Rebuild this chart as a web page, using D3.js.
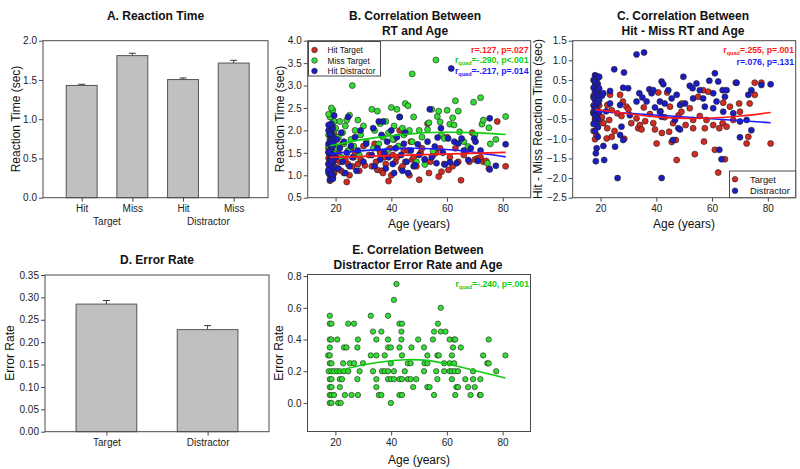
<!DOCTYPE html>
<html><head><meta charset="utf-8">
<script src="https://cdn.jsdelivr.net/npm/d3@7"></script>
<style>body{margin:0;background:#fff} text{font-family:"Liberation Sans",Arial,sans-serif}</style>
</head><body><svg id="c" width="800" height="469"></svg>
<script>
// ---------- DATA ----------
const catsA = ["Hit","Miss","Hit","Miss"];
const groupsA = ["Target","Distractor"];
const rtMeansA = [1.43, 1.81, 1.505, 1.715];
const rtErrA = [0.015, 0.03, 0.02, 0.035];
const rtTicksA = [0,0.5,1.0,1.5,2.0];

const catsD = ["Target","Distractor"];
const errMeansD = [0.285, 0.228];
const errErrD = [0.008, 0.009];
const errTicksD = [0,0.05,0.10,0.15,0.20,0.25,0.30,0.35];

const ageTicks = [20,40,60,80];
const rtTicksB = [0.5,1.0,1.5,2.0,2.5,3.0,3.5,4.0];
const diffTicksC = [-2.5,-2.0,-1.5,-1.0,-0.5,0,0.5,1.0,1.5];
const errTicksE = [0,0.2,0.4,0.6,0.8];

// B: Hit Target RT
const hitTargetB = [[18,0.88],[18.5,0.92],[19,0.95],[18,1.0],[19.5,1.05],[18.5,1.08],[17.5,1.1],[19,1.15],[18,1.18],[19.5,1.2],[18.5,1.22],[17.5,1.25],[19,1.28],[18,1.3],[19.5,1.33],[18.5,1.35],[17.5,1.38],[19,1.4],[18,1.45],[19.5,1.5],[18.5,1.55],[17.5,1.6],[19,1.7],[18,1.8],[19.5,1.9],
[20.5,1.15],[21,1.5],[21.5,1.3],[22,1.1],[22.5,1.7],[23,1.05],[23.5,1.35],[24,0.85],[24.5,1.25],[25,1.0],[25.5,1.6],[26,1.2],[26.5,1.4],[27,1.5],[28,1.25],[28.5,1.1],[29,1.35],[30,1.65],[30.5,1.22],[32,1.45],[33,1.2],[34,1.7],[34.5,1.3],[35,1.12],[36,1.5],[36.5,1.1],[37,1.05],[37.5,1.4],[38,1.25],[39,0.87],[39.5,1.6],[40,1.0],[40.5,1.45],[41,1.8],[41.5,1.3],[42,1.4],[43,2.0],[43.5,1.15],[44,1.2],[44.5,1.55],[45,1.3],[46,1.55],[46.5,1.0],[47,1.75],[47.5,1.35],[48,1.4],[49,1.2],[50,0.9],[50.5,1.5],[51,1.6],[52,1.35],[53,2.15],[53.5,1.05],[54,1.3],[55,1.45],[56,1.5],[57,0.97],[57.5,1.6],[58,1.08],[59,1.25],[60,1.85],[60.5,1.12],[61,1.4],[62,1.2],[63,1.6],[64,1.3],[65,0.89],[66,1.45],[67,1.55],[68,1.3],[69,1.95],[70,1.35],[71,1.38],[72,1.4],[73,1.3],[74,1.32],[75,1.15],[78,2.2],[81,1.2]];
// B: Miss Target RT
const missTargetB = [[18,1.2],[19,1.35],[18.5,1.45],[19.5,1.5],[18,1.55],[19,1.6],[17.5,1.65],[18.5,1.7],[19.5,1.75],[18,1.8],[19,1.85],[17.5,1.9],[18.5,1.95],[19.5,2.0],[18,2.05],[19,2.1],[18.5,2.15],[19.5,2.2],[18,2.3],[17.5,2.36],[19,2.45],[18.5,2.5],
[20,2.05],[20.5,1.6],[21,1.85],[21.5,2.2],[22,1.4],[22.5,1.95],[23,1.7],[23.5,2.1],[24,2.23],[24.5,1.55],[25,2.34],[25.5,1.8],[26,3.0],[26.5,1.65],[27,2.0],[28,2.23],[28.5,1.45],[29,1.9],[30,2.1],[31,1.75],[33,2.47],[33.5,1.6],[34,2.0],[35,2.43],[35.5,1.7],[36,2.15],[37,1.85],[38,2.2],[38.5,1.55],[39,1.95],[40,2.51],[40.5,1.8],[41,2.1],[42,2.47],[42.5,1.65],[43,2.3],[44,2.05],[44.5,1.9],[45,2.6],[46,2.55],[46.5,2.0],[47.5,3.26],[47.5,1.75],[48,2.3],[49,1.3],[50,2.0],[51,1.85],[52,1.24],[53,2.02],[53.5,2.17],[54.5,2.47],[55,1.54],[56,3.57],[56.5,2.31],[57,2.43],[57.5,2.19],[58,1.9],[59,1.82],[60,2.45],[61,2.14],[62,2.28],[62.5,2.12],[63,2.66],[64,2.43],[64.5,1.97],[66,1.75],[67.5,1.64],[69.5,2.63],[70,1.9],[72,2.73],[72.5,2.14],[73,2.23],[74.5,1.27],[75,2.06],[75.5,1.7],[77.5,1.8],[81,2.31]];
// B: Hit Distractor RT
const hitDistractorB = [[18,0.9],[18.5,0.95],[19,1.0],[17.5,1.05],[18,1.1],[19,1.15],[18.5,1.2],[17.5,1.25],[19,1.3],[18,1.35],[18.5,1.4],[19,1.45],[17.5,1.5],[18,1.55],[18.5,1.6],[19,1.65],[17.5,1.7],[18,1.75],[18.5,1.8],[19,1.85],[18,1.9],[18.5,1.95],[17.5,2.0],[19,2.05],[18,2.1],[18.5,2.15],[19,0.92],[17.5,1.12],[18.5,1.32],[17.5,1.52],[19,1.72],[18,1.92],[17.5,2.12],[19.5,2.33],[18.5,1.02],
[20,1.4],[20.5,1.8],[21,1.15],[21.5,1.6],[22,1.95],[22.5,1.3],[23,1.75],[23.5,1.05],[24,1.5],[24.5,2.3],[25,1.2],[25.5,1.65],[26,1.4],[27,1.85],[27.5,1.1],[28,1.55],[29,2.0],[30,1.3],[31,1.7],[33,1.45],[33.5,2.05],[34,1.2],[35,1.6],[35.5,2.2],[36,1.35],[36.5,1.9],[37,2.2],[37.5,1.5],[38,1.15],[38.5,1.75],[39,1.4],[40,2.0],[40.5,1.25],[41,1.05],[41.5,1.6],[42,1.85],[43,2.3],[43.5,1.45],[44,1.1],[44.5,1.7],[45,1.95],[45.5,1.3],[46,1.05],[47,1.55],[48,1.2],[48.5,1.23],[49.5,1.69],[50,1.45],[52,1.35],[53,1.75],[53.8,2.47],[54.5,1.4],[55.6,1.64],[56.2,1.27],[56.6,1.84],[57.8,2.05],[58.5,1.5],[59.2,1.24],[60.4,1.82],[61,1.29],[61.5,3.38],[62.6,1.75],[63.4,1.27],[64,1.71],[65.2,1.82],[66,1.55],[67.6,1.34],[68.5,1.6],[69.7,1.82],[70.2,1.75],[71,1.32],[72,1.55],[75.3,2.27],[75.3,1.13],[77.5,1.21],[81,1.69]];
// B fit curves
const fitHitTargetB = [[18,1.40],[81,1.51]];
const fitMissTargetB = [[18,1.66],[30,1.80],[40,1.88],[50,1.94],[60,1.96],[70,1.95],[81,1.91]];
const fitHitDistractorB = [[18,1.48],[30,1.55],[45,1.60],[55,1.59],[66,1.54],[81,1.41]];

// C: Hit - Miss RT, Target
const diffTargetC = [[18,0.43],[18.5,0.3],[19,0.2],[17.5,0.1],[18,0.0],[19,-0.1],[18.5,-0.2],[17.5,-0.3],[19,-0.4],[18,-0.5],[18.5,-0.6],[19,-0.7],[17.5,-0.8],[18.5,-0.9],[18,-1.01],[19.5,-0.15],[17.5,-0.35],[19.5,-0.55],[19,0.05],[18,-0.25],
[20.5,-0.45],[21,-0.6],[22.2,-0.99],[22.4,-0.14],[22.4,-0.73],[23.1,-0.52],[23.4,0.12],[24,-0.27],[24,-0.95],[25,-0.8],[26,-0.35],[27,0.12],[27.5,-0.42],[28,-0.05],[28.5,-1.0],[29.3,-0.18],[30,-0.25],[31,-0.6],[32.9,-0.48],[33.5,-0.73],[34.1,-0.65],[34.7,-0.76],[35.5,-0.2],[36,-0.55],[37.7,-0.37],[38.9,-0.6],[39.5,-0.76],[40.1,-1.12],[40.7,0.18],[41.5,-0.3],[42,-0.85],[43,-0.45],[43.9,0.18],[44.6,-0.82],[44.9,-0.18],[45.5,-1.08],[46,-0.6],[47,-1.03],[47.3,-1.54],[48,-0.4],[49,-0.31],[49.1,-0.1],[50.5,-0.65],[52,-0.22],[53.2,-0.52],[53.2,-0.73],[53.8,-1.39],[55,0.07],[55.6,-0.42],[56.8,0.24],[57.1,-1.07],[57.4,-0.73],[58,-0.52],[58.6,0.2],[60.4,-0.65],[61,-1.28],[62.2,-1.86],[62.6,-0.73],[63.8,-0.6],[64,-0.08],[64.6,-1.52],[65.2,-0.69],[66.4,-0.18],[67.6,-0.52],[68.5,0.43],[69.7,-0.1],[70,-0.31],[72.4,-1.12],[73,-0.95],[73.5,-0.1],[75.3,0.12],[75.3,0.43],[77.7,0.43],[81,-1.12]];
// C: Hit - Miss RT, Distractor
const diffDistractorC = [[18,0.62],[18.5,0.6],[19,0.55],[17.5,0.5],[18,0.45],[19,0.4],[18.5,0.35],[17.5,0.3],[19,0.25],[18,0.2],[18.5,0.15],[19,0.1],[17.5,0.05],[18,0.0],[18.5,-0.05],[19,-0.1],[17.5,-0.15],[18,-0.2],[18.5,-0.25],[19,-0.3],[17.5,-0.35],[18,-0.4],[18.5,-0.45],[19,-0.5],[18,-0.55],[18.5,-0.6],[19,-0.7],[18,-0.8],[19,-0.95],[18.6,-1.24],[18.3,-1.37],[18.3,-1.57],[19.5,0.58],[19.5,0.28],[19.5,-0.02],[19.5,-0.32],[17.5,-0.62],
[20.5,0.1],[21,0.16],[21,-1.18],[21.3,-1.54],[22,-0.3],[23.4,0.22],[23.4,-0.1],[24.9,0.77],[25.2,-1.2],[26.1,-2.0],[27,-0.14],[27,-0.9],[27.5,-0.69],[28.1,0.3],[28.1,-1.03],[28.4,0.69],[29.9,0.29],[30.5,-0.4],[32.9,1.15],[32.9,-0.05],[33.9,0.16],[35.6,1.2],[35,0.05],[36.5,-0.05],[37.5,0.26],[38.3,0.16],[38.9,0.24],[39.5,-0.2],[41.3,-0.05],[41.3,-0.31],[41.9,0.46],[41.9,-0.44],[41.9,-2.0],[42.5,0.39],[43,-0.1],[44.3,0.24],[45.5,0.03],[46,-1.03],[46.7,-0.52],[47.3,0.12],[47.9,-0.73],[48.5,-0.14],[48.5,-0.76],[49.7,0.58],[50.3,-0.1],[52,0.35],[53,0.29],[53.2,0.03],[54.4,0.41],[55.6,0.24],[56.8,0.03],[57.4,-0.18],[59,0.48],[60.4,0.16],[60.4,-0.22],[61,0.67],[61.6,-0.05],[62.2,0.46],[62.6,-1.28],[63.4,-1.52],[63.8,0.24],[64,-0.31],[64.6,0.07],[65.2,0.24],[67.6,-0.35],[68.8,0.43],[70,-0.56],[70,-0.96],[72.4,-0.52],[73,0.12],[74.1,0.24],[74.1,-0.78],[77.7,0.37],[81,0.39]];
const fitTargetC = [[18,-0.25],[30,-0.36],[40,-0.44],[50,-0.48],[60,-0.47],[70,-0.42],[81,-0.33]];
const fitDistractorC = [[18,-0.29],[81,-0.59]];

// E: distractor error rate by age (rate, ages at that rate)
const errRowsE = [
 [0.75,[41.9]],[0.65,[41]],[0.60,[57.8]],
 [0.55,[18,32.7,38.9]],
 [0.50,[18,18.6,24.6,26.7,43,43.9,56.8]],
 [0.45,[33.5,36.5,43.7,55.4,57.8,59.5]],
 [0.40,[18,18.6,20.7,28.1,34.7,38.9,43.7,49.7,55,61,62.6,63,75]],
 [0.35,[18,23.1,24,27.9,38.9,39.9,43,47.3,51.8,62.2,65]],
 [0.30,[17.4,18,32.7,34.7,37.7,43.9,53,56.6,57.1,61.8,73,81]],
 [0.25,[18,18.6,22.8,25.2,26.7,29.9,39.9,46,47,52,53,59,61,62.6,74.5,75]],
 [0.20,[17.6,18.6,19.5,20.6,21.6,23.1,24.6,28.7,33.5,36.7,37.7,38.9,41,44.9,51.8,56.2,59,61,61.8,62.8,64,69.4,77.7]],
 [0.15,[18,18.6,21.6,22.4,27.9,34.7,38.9,39.9,41,43,43.9,46,47,49,56.6,61.8,66.6,69.4,72]],
 [0.10,[18,18.6,21.6,34.7,47.9,53,53.8,63.4,64,67.6,70]],
 [0.05,[18,18.6,19.5,23.4,25.8,28.1,35.6,36.5,43,43.9,55.4,63,68.5,71.8,72.1]],
 [0.00,[18,18.6,21,21.9,39.9]]
];
const fitE = [[19,0.185],[25,0.22],[35,0.255],[45,0.272],[52,0.27],[60,0.247],[70,0.205],[81,0.157]];

// ---------- DRAW ----------
const svg = d3.select("#c");
const FONT = "Liberation Sans, Arial, sans-serif";
const AX = "#4a4a4a";
const RED = "#d42a22", GREEN = "#33dd33", BLUE = "#1c1cc4";
const LRED = "#ff1a1a", LGREEN = "#11cc11", LBLUE = "#1a1aff";

function box(x0,x1,y0,y1){
  svg.append("rect").attr("x",x0).attr("y",y0).attr("width",x1-x0).attr("height",y1-y0)
    .attr("fill","none").attr("stroke",AX).attr("stroke-width",1);
}
function styleAxis(g){
  g.attr("font-family",FONT);
  g.select(".domain").remove();
  g.selectAll("line").attr("stroke",AX);
  g.selectAll("text").attr("font-size",10).attr("fill","#222");
}
function yAxis(scale,x,ticks,fmt){
  const g = svg.append("g").attr("transform",`translate(${x},0)`)
    .call(d3.axisLeft(scale).tickValues(ticks).tickFormat(d3.format(fmt)).tickSize(4).tickPadding(2));
  styleAxis(g); return g;
}
function xAxis(scale,y,ticks,fmt){
  const a = d3.axisBottom(scale).tickSize(4).tickPadding(3);
  if(ticks) a.tickValues(ticks);
  if(fmt) a.tickFormat(fmt);
  const g = svg.append("g").attr("transform",`translate(0,${y})`).call(a);
  styleAxis(g); return g;
}
function title(lines,cx,y0){
  lines.forEach((t,i)=>svg.append("text").attr("x",cx).attr("y",y0+i*15).attr("text-anchor","middle")
    .attr("font-size",12).attr("font-weight","bold").attr("fill","#111").text(t));
}
function yLabel(t,x,cy){
  svg.append("text").attr("transform",`translate(${x},${cy}) rotate(-90)`).attr("text-anchor","middle")
    .attr("font-size",12).attr("fill","#111").text(t);
}
function xLabel(t,cx,y){
  svg.append("text").attr("x",cx).attr("y",y).attr("text-anchor","middle").attr("font-size",12).attr("fill","#111").text(t);
}
function stat(x,y,color,pre,sub,post,fs){
  const t = svg.append("text").attr("x",x).attr("y",y).attr("text-anchor","end")
    .attr("font-size",fs||8.7).attr("font-weight","bold").attr("fill",color);
  t.append("tspan").text(pre);
  if(sub){ t.append("tspan").attr("font-size",5.5).attr("dy",2).text(sub); t.append("tspan").attr("dy",-2).text(post); }
}
function dots(data,x,y,color,r){
  svg.append("g").selectAll("circle").data(data).join("circle")
    .attr("cx",d=>x(d[0])).attr("cy",d=>y(d[1])).attr("r",r||3)
    .attr("fill",color).attr("stroke","#202020").attr("stroke-width",0.6);
}
function fit(data,x,y,color){
  svg.append("path").datum(data).attr("fill","none").attr("stroke",color).attr("stroke-width",1.6)
    .attr("d",d3.line().x(d=>x(d[0])).y(d=>y(d[1])).curve(d3.curveNatural));
}
function bars(data,errs,x,y,w){
  const g = svg.append("g");
  data.forEach((v,i)=>{
    const cx = x(i), y0 = y(0), yt = y(v), ye = y(v+errs[i]);
    g.append("line").attr("x1",cx).attr("x2",cx).attr("y1",yt).attr("y2",ye).attr("stroke","#222").attr("stroke-width",0.9);
    g.append("line").attr("x1",cx-3.5).attr("x2",cx+3.5).attr("y1",ye).attr("y2",ye).attr("stroke","#222").attr("stroke-width",0.9);
    g.append("rect").attr("x",cx-w/2).attr("y",yt).attr("width",w).attr("height",y0-yt)
      .attr("fill","#c0c0c0").attr("stroke","#555").attr("stroke-width",1);
  });
}

// ---- Panel A ----
{
  const L=43,R=268,T=40.7,B=197.7;
  const x = d3.scalePoint().domain(d3.range(catsA.length)).range([L,R]).padding(0.72).align(0.53);
  const y = d3.scaleLinear().domain([0,2]).range([B,T]);
  bars(rtMeansA,rtErrA,x,y,x.step()*0.61);
  box(L,R,T,B);
  yAxis(y,L,rtTicksA,".1f");
  xAxis(x,B,null,i=>catsA[i]);
  groupsA.forEach((gname,gi)=>{
    const cx = (x(gi*2)+x(gi*2+1))/2;
    svg.append("text").attr("x",cx).attr("y",225).attr("text-anchor","middle").attr("font-size",10).attr("fill","#222").text(gname);
  });
  title(["A. Reaction Time"],155.5,19.5);
  yLabel("Reaction Time (sec)",20,119);
}

// ---- Panel B ----
{
  const L=307.7,R=530.7,T=40.7,B=197.7;
  const x = d3.scaleLinear().domain([10,90]).range([L,R]);
  const y = d3.scaleLinear().domain([0.5,4]).range([B,T]);
  dots(hitTargetB,x,y,RED);
  dots(missTargetB,x,y,GREEN);
  dots(hitDistractorB,x,y,BLUE);
  fit(fitMissTargetB,x,y,LGREEN);
  fit(fitHitDistractorB,x,y,LBLUE);
  fit(fitHitTargetB,x,y,LRED);
  box(L,R,T,B);
  yAxis(y,L,rtTicksB,".1f");
  xAxis(x,B,ageTicks,d3.format("d"));
  // legend
  svg.append("rect").attr("x",308.5).attr("y",41.5).attr("width",72).attr("height",34.5).attr("fill","#fff").attr("stroke",AX).attr("stroke-width",1);
  [["Hit Target",RED],["Miss Target",GREEN],["Hit Distractor",BLUE]].forEach((d,i)=>{
    const cy = 50+i*10.5;
    svg.append("circle").attr("cx",314.5).attr("cy",cy).attr("r",2.8).attr("fill",d[1]).attr("stroke","#202020").attr("stroke-width",0.6);
    svg.append("text").attr("x",327.5).attr("y",cy+3).attr("font-size",8.3).attr("fill","#111").text(d[0]);
  });
  stat(528.5,52.5,LRED,"r=.127, p=.027");
  stat(528.5,63,LGREEN,"r","quad","=-.290, p<.001");
  stat(528.5,73.5,LBLUE,"r","quad","=-.217, p=.014");
  title(["B. Correlation Between","RT and Age"],415,19.5);
  yLabel("Reaction Time (sec)",284,119);
  xLabel("Age (years)",419,228);
}

// ---- Panel C ----
{
  const L=572.7,R=795.7,T=40.7,B=197.7;
  const x = d3.scaleLinear().domain([10,90]).range([L,R]);
  const y = d3.scaleLinear().domain([-2.5,1.5]).range([B,T]);
  dots(diffTargetC,x,y,RED);
  dots(diffDistractorC,x,y,BLUE);
  fit(fitDistractorC,x,y,LBLUE);
  fit(fitTargetC,x,y,LRED);
  box(L,R,T,B);
  yAxis(y,L,diffTicksC,".1f");
  xAxis(x,B,ageTicks,d3.format("d"));
  svg.append("rect").attr("x",729.5).attr("y",171).attr("width",66.2).attr("height",26.7).attr("fill","#fff").attr("stroke",AX).attr("stroke-width",1);
  [["Target",RED],["Distractor",BLUE]].forEach((d,i)=>{
    const cy = 179.2+i*11.5;
    svg.append("circle").attr("cx",735).attr("cy",cy).attr("r",2.8).attr("fill",d[1]).attr("stroke","#202020").attr("stroke-width",0.6);
    svg.append("text").attr("x",750).attr("y",cy+3.3).attr("font-size",9.3).attr("fill","#111").text(d[0]);
  });
  stat(794,53,LRED,"r","quad","=.255, p=.001");
  stat(794,65,LBLUE,"r=.076, p=.131");
  title(["C. Correlation Between","Hit - Miss RT and Age"],683,19.5);
  yLabel("Hit - Miss Reaction Time (sec)",541.5,119);
  xLabel("Age (years)",684,228);
}

// ---- Panel D ----
{
  const L=45,R=269,T=275,B=431.7;
  const x = d3.scalePoint().domain(d3.range(catsD.length)).range([L,R]).padding(0.607);
  const y = d3.scaleLinear().domain([0,0.35]).range([B,T]);
  bars(errMeansD,errErrD,x,y,x.step()*0.6);
  box(L,R,T,B);
  yAxis(y,L,errTicksD,".2f");
  xAxis(x,B,null,i=>catsD[i]);
  title(["D. Error Rate"],157,263.5);
  yLabel("Error Rate",13.5,353);
}

// ---- Panel E ----
{
  const L=307.5,R=530.5,T=274.5,B=431.5;
  const x = d3.scaleLinear().domain([10,90]).range([L,R]);
  const y = d3.scaleLinear().domain([-0.18,0.81]).range([B,T]);
  const ptsE = errRowsE.flatMap(([rate,ages])=>ages.map(a=>[a,rate]));
  dots(ptsE,x,y,GREEN,2.7);
  fit(fitE,x,y,LGREEN);
  box(L,R,T,B);
  yAxis(y,L,errTicksE,".1f");
  xAxis(x,B,ageTicks,d3.format("d"));
  stat(529,287,LGREEN,"r","quad","=-.240, p=.001");
  title(["E. Correlation Between","Distractor Error Rate and Age"],418,254);
  yLabel("Error Rate",283,353);
  xLabel("Age (years)",419,463.5);
}
</script></body></html>
